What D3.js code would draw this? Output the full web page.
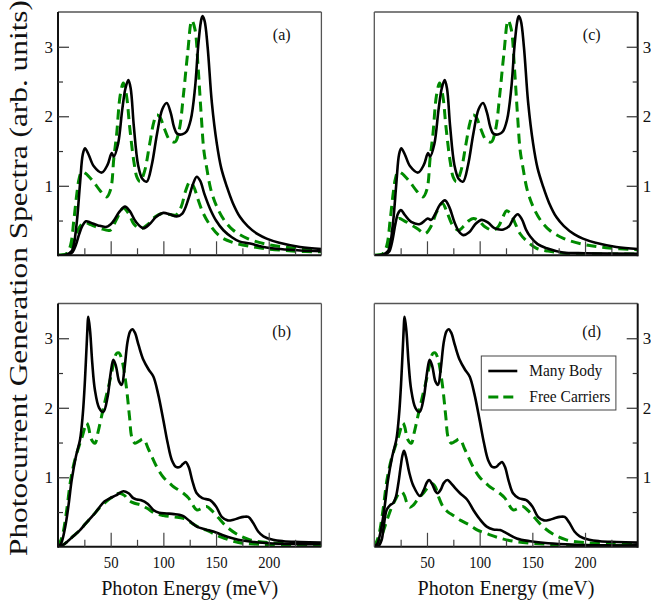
<!DOCTYPE html>
<html>
<head>
<meta charset="utf-8">
<script src="https://cdn.jsdelivr.net/npm/d3@7"></script>
<style>
  html, body { margin: 0; padding: 0; background: #fff; }
  svg { display: block; }
  svg text { font-family: "Liberation Serif", "Times New Roman", serif !important; }
</style>
</head>
<body>
<svg id="chart" width="651" height="608"></svg>
<script>
// ---- spectra: photon energy (meV) and generation values (arb. units) ----

// upper panels (a), (c): "large" curves shared by both
const topA_mb_x = [0, 8, 13, 15, 18, 21, 23.5, 25.6, 29, 34, 41.5, 47, 51, 53, 57, 61, 64, 66.8, 69, 72, 76, 80, 84.2, 89, 94, 99, 103.2, 107, 110, 113, 118, 122, 126, 130, 133, 135.5, 137, 139, 142, 146, 150.7, 155, 160.2, 166, 172.8, 180, 190, 198, 210, 229.7, 250];
const topA_mb_y = [0, 0.01, 0.06, 0.15, 0.5, 1.05, 1.45, 1.54, 1.45, 1.28, 1.19, 1.3, 1.47, 1.42, 1.6, 2.1, 2.4, 2.52, 2.4, 1.85, 1.3, 1.1, 1.06, 1.3, 1.75, 2.1, 2.19, 2.05, 1.85, 1.75, 1.74, 1.78, 1.95, 2.4, 3.0, 3.35, 3.44, 3.38, 3.0, 2.2, 1.61, 1.25, 0.99, 0.75, 0.55, 0.42, 0.3, 0.24, 0.18, 0.12, 0.09];
const topA_fc_x = [0, 8, 12, 15, 18, 20, 22.5, 26, 33.5, 40, 46.2, 50, 53, 55.7, 59, 62, 65, 68, 72, 75, 77.9, 82, 87, 91, 93.7, 97, 101, 106, 111, 115, 119, 123, 127, 130, 133, 136, 138.5, 141, 145, 150.7, 158, 166.4, 180, 198, 220, 250];
const topA_fc_y = [0, 0.02, 0.15, 0.5, 0.9, 1.1, 1.2, 1.18, 1.06, 0.93, 0.84, 0.95, 1.4, 1.75, 2.3, 2.48, 2.3, 1.85, 1.35, 1.12, 1.06, 1.2, 1.6, 1.92, 2.02, 1.98, 1.82, 1.66, 1.63, 1.8, 2.3, 2.9, 3.38, 3.25, 2.7, 2.0, 1.5, 1.27, 0.95, 0.7, 0.5, 0.36, 0.24, 0.16, 0.11, 0.08];

// panel (a): lower curves
const botA_mb_x = [0, 10, 14, 17, 20, 23, 26.6, 31, 38, 46.2, 52, 58, 63.6, 68, 74, 81, 87, 93, 100, 106, 112.7, 118, 124, 128, 131.7, 135, 139, 144.3, 150, 157, 165, 172, 182.3, 195, 211, 230, 250];
const botA_mb_y = [0, 0.01, 0.05, 0.15, 0.3, 0.42, 0.49, 0.47, 0.43, 0.41, 0.48, 0.62, 0.7, 0.64, 0.48, 0.39, 0.45, 0.55, 0.61, 0.59, 0.56, 0.6, 0.82, 1.02, 1.13, 1.07, 0.88, 0.67, 0.5, 0.36, 0.26, 0.2, 0.17, 0.12, 0.09, 0.07, 0.06];
const botA_fc_x = [0, 8, 12, 15, 18, 21, 25.6, 31, 40, 49.4, 55, 62, 67, 72, 78, 85, 92, 98.5, 105, 112, 117, 121, 125.3, 129, 133, 138, 145, 154, 165, 182, 200, 225, 250];
const botA_fc_y = [0, 0.02, 0.08, 0.2, 0.33, 0.42, 0.47, 0.44, 0.39, 0.36, 0.5, 0.68, 0.6, 0.45, 0.38, 0.44, 0.55, 0.6, 0.59, 0.58, 0.7, 0.92, 1.06, 0.98, 0.8, 0.6, 0.42, 0.27, 0.19, 0.13, 0.09, 0.06, 0.05];

// panel (c): lower curves
const botC_mb_x = [0, 10, 14, 17, 20, 22.5, 25.3, 29, 35, 43.4, 48, 50.7, 53.9, 58, 62, 67.1, 71, 76, 80, 84.5, 90, 96, 102, 108, 114, 122.5, 128, 132, 136.1, 140, 144, 148, 155, 163.7, 179, 200, 250];
const botC_mb_y = [0, 0.01, 0.05, 0.2, 0.45, 0.6, 0.65, 0.58, 0.48, 0.45, 0.5, 0.53, 0.51, 0.6, 0.72, 0.79, 0.7, 0.48, 0.35, 0.29, 0.33, 0.45, 0.51, 0.47, 0.39, 0.37, 0.42, 0.53, 0.59, 0.52, 0.37, 0.27, 0.16, 0.1, 0.04, 0.03, 0.02];
const botC_fc_x = [0, 8, 12, 15, 18, 21, 23.8, 28, 35, 42, 48.1, 54, 59, 64.6, 69, 74, 79.8, 85, 90, 94, 99, 105, 113, 118, 122, 125.7, 130, 134, 138.4, 145, 154, 165, 180, 210, 250];
const botC_fc_y = [0, 0.02, 0.1, 0.25, 0.4, 0.5, 0.53, 0.5, 0.44, 0.37, 0.31, 0.42, 0.62, 0.75, 0.62, 0.44, 0.36, 0.42, 0.5, 0.53, 0.5, 0.41, 0.36, 0.42, 0.55, 0.64, 0.58, 0.45, 0.31, 0.2, 0.1, 0.06, 0.03, 0.02, 0.02];

// lower panels (b), (d): "large" curves shared by both
const topB_mb_x = [0, 3, 7, 10, 13, 17, 20.9, 23.5, 25.6, 27.5, 28.8, 30.5, 32.5, 35, 39, 43, 47, 50, 52.5, 55, 58, 60.5, 63, 66, 68.5, 70.6, 73, 76.5, 81, 86, 90.5, 95, 100, 104, 108, 112, 115.8, 118.5, 121.2, 124, 127.5, 131.7, 137, 144.3, 150, 155.4, 161, 166.6, 171, 176, 180.7, 185, 190, 195, 204, 214, 230, 250];
const topB_mb_y = [0, 0.05, 0.3, 0.6, 0.96, 1.3, 1.54, 1.9, 2.4, 3.0, 3.31, 3.1, 2.65, 2.26, 2.0, 1.94, 2.15, 2.5, 2.69, 2.6, 2.38, 2.33, 2.55, 2.95, 3.1, 3.13, 3.08, 2.9, 2.69, 2.55, 2.45, 2.2, 1.82, 1.5, 1.25, 1.15, 1.15, 1.19, 1.22, 1.15, 0.95, 0.77, 0.7, 0.67, 0.58, 0.43, 0.38, 0.39, 0.41, 0.43, 0.43, 0.35, 0.22, 0.15, 0.1, 0.08, 0.07, 0.06];
const topB_fc_x = [0, 4, 8, 12, 16, 20, 23.3, 25.5, 27.2, 29, 31.5, 35.1, 38, 43, 49.4, 53, 55.5, 57.9, 60.5, 63, 65.2, 68, 70, 73.1, 77, 81, 86, 93.7, 100, 106.3, 110, 114.2, 119, 124, 131.7, 136, 141, 146, 152, 160, 170, 182.3, 200, 225, 250];
const topB_fc_y = [0, 0.15, 0.5, 0.96, 1.25, 1.45, 1.6, 1.72, 1.78, 1.72, 1.55, 1.49, 1.65, 1.99, 2.4, 2.65, 2.78, 2.79, 2.7, 2.5, 2.26, 1.85, 1.58, 1.49, 1.52, 1.55, 1.4, 1.15, 1.0, 0.91, 0.86, 0.82, 0.77, 0.7, 0.53, 0.55, 0.58, 0.52, 0.42, 0.29, 0.18, 0.1, 0.06, 0.05, 0.04];

// panel (b): lower curves
const botB_mb_x = [0, 5, 10, 15, 20.9, 26, 32, 36, 39.9, 44, 49.4, 55, 62, 67, 71.5, 75, 79, 85, 90.5, 96, 103, 110, 115, 119, 125, 131.7, 140, 147.5, 156, 166.5, 175, 185.5, 200, 225, 250];
const botB_mb_y = [0, 0.03, 0.09, 0.16, 0.24, 0.33, 0.43, 0.5, 0.58, 0.65, 0.7, 0.74, 0.8, 0.77, 0.7, 0.68, 0.67, 0.62, 0.53, 0.49, 0.48, 0.47, 0.46, 0.44, 0.37, 0.29, 0.25, 0.22, 0.17, 0.12, 0.09, 0.07, 0.05, 0.04, 0.04];
const botB_fc_x = [0, 5, 10, 15, 20.9, 26, 32, 40, 49, 55, 58, 63, 67, 72, 79, 85, 92, 100, 110, 119, 128, 135, 141, 147.5, 155, 166.5, 175, 185.5, 200, 225, 250];
const botB_fc_y = [0, 0.03, 0.09, 0.16, 0.24, 0.33, 0.43, 0.57, 0.69, 0.75, 0.77, 0.74, 0.67, 0.63, 0.6, 0.55, 0.48, 0.45, 0.43, 0.41, 0.33, 0.27, 0.24, 0.19, 0.14, 0.08, 0.05, 0.04, 0.03, 0.03, 0.03];

// panel (d): lower curves
const botD_mb_x = [0, 4, 7, 9, 11.7, 15, 18, 20.5, 22.8, 25, 26.8, 28.2, 30, 33, 37, 43.4, 47, 50, 52, 55, 58, 60, 63, 66, 69.4, 72.5, 77, 81.4, 88, 94, 100, 106.7, 113, 119.4, 125, 135.2, 147.9, 165, 190, 220, 250];
const botD_mb_y = [0, 0.01, 0.1, 0.3, 0.53, 0.6, 0.63, 0.72, 0.91, 1.15, 1.32, 1.38, 1.3, 1.08, 0.88, 0.73, 0.82, 0.93, 0.96, 0.9, 0.8, 0.77, 0.82, 0.92, 0.96, 0.92, 0.84, 0.77, 0.68, 0.53, 0.4, 0.29, 0.25, 0.24, 0.2, 0.12, 0.08, 0.05, 0.03, 0.02, 0.02];
const botD_fc_x = [0, 4, 8, 12, 16, 20, 23, 26, 28.5, 31, 33.9, 37, 42, 46.5, 50, 54.5, 58, 61, 65.5, 70, 75, 82, 90.8, 98, 106.7, 118, 132, 150, 175, 210, 250];
const botD_fc_y = [0, 0.05, 0.2, 0.38, 0.55, 0.68, 0.76, 0.79, 0.74, 0.63, 0.57, 0.6, 0.7, 0.77, 0.84, 0.91, 0.86, 0.72, 0.57, 0.5, 0.45, 0.38, 0.31, 0.24, 0.19, 0.13, 0.08, 0.05, 0.03, 0.02, 0.02];

// axes
const xMajorTicks = [50, 100, 150, 200];
const xMinorTicks = [25, 75, 125, 175, 225];
const yMajorTicks = [1, 2, 3];
const yMinorTicks = [0.5, 1.5, 2.5];
const xDomain = [0, 250];
const yDomain = [0, 3.5];

const xTitle = "Photon Energy (meV)";
const yTitle = "Photocurrent Generation Spectra (arb. units)";
const seriesNames = ["Many Body", "Free Carriers"];

// ---- drawing ----
const SERIF = "'Liberation Serif', 'Times New Roman', serif";
const GREEN = "rgb(0,139,0)";
const svg = d3.select("#chart");

const zip = (xs, ys) => xs.map((x, i) => ({ x, y: ys[i] }));

const panels = [
  { id: "a", left: 58,    top: 12,    side: "left",  bottomLabels: false,
    curves: [[topA_mb_x, topA_mb_y, 0], [topA_fc_x, topA_fc_y, 1], [botA_mb_x, botA_mb_y, 0], [botA_fc_x, botA_fc_y, 1]] },
  { id: "c", left: 374.3, top: 12,    side: "right", bottomLabels: false,
    curves: [[topA_mb_x, topA_mb_y, 0], [topA_fc_x, topA_fc_y, 1], [botC_mb_x, botC_mb_y, 0], [botC_fc_x, botC_fc_y, 1]] },
  { id: "b", left: 58,    top: 303.5, side: "left",  bottomLabels: true,
    curves: [[topB_mb_x, topB_mb_y, 0], [topB_fc_x, topB_fc_y, 1], [botB_mb_x, botB_mb_y, 0], [botB_fc_x, botB_fc_y, 1]] },
  { id: "d", left: 374.3, top: 303.5, side: "right", bottomLabels: true, legend: true,
    curves: [[topB_mb_x, topB_mb_y, 0], [topB_fc_x, topB_fc_y, 1], [botD_mb_x, botD_mb_y, 0], [botD_fc_x, botD_fc_y, 1]] }
];

const W = 263.4, H = 243.3;

const styles = [
  { stroke: "#000", width: 2.6, dash: null },
  { stroke: GREEN, width: 3, dash: "10,6" }
];

panels.forEach(p => {
  const g = svg.append("g").attr("transform", `translate(${p.left},${p.top})`);
  const x = d3.scaleLinear().domain(xDomain).range([0, W]);
  const y = d3.scaleLinear().domain(yDomain).range([H, 0]);

  const clipId = "clip-" + p.id;
  g.append("clipPath").attr("id", clipId)
    .append("rect").attr("x", 0).attr("y", 0).attr("width", W).attr("height", H);

  const line = d3.line().x(d => x(d.x)).y(d => y(d.y)).curve(d3.curveCatmullRom.alpha(0.5));
  const plot = g.append("g").attr("clip-path", `url(#${clipId})`);
  // free-carrier (dashed) curves first, many-body on top
  [1, 0].forEach(kind => {
    p.curves.filter(c => c[2] === kind).forEach(c => {
      const s = styles[kind];
      plot.append("path")
        .datum(zip(c[0], c[1]))
        .attr("d", line)
        .attr("fill", "none")
        .attr("stroke", s.stroke)
        .attr("stroke-width", s.width)
        .attr("stroke-linejoin", "round")
        .attr("stroke-dasharray", s.dash);
    });
  });

  // frame: thin on open sides, heavy on axis sides
  const thin = "#555", heavy = "#111";
  g.append("line").attr("x1", 0).attr("x2", W).attr("y1", 0).attr("y2", 0).attr("stroke", thin).attr("stroke-width", 1.3);
  g.append("line").attr("x1", 0).attr("x2", W).attr("y1", H).attr("y2", H).attr("stroke", heavy).attr("stroke-width", 2);
  const axX = p.side === "left" ? 0 : W, openX = p.side === "left" ? W : 0;
  g.append("line").attr("x1", openX).attr("x2", openX).attr("y1", 0).attr("y2", H).attr("stroke", thin).attr("stroke-width", 1.3);
  g.append("line").attr("x1", axX).attr("x2", axX).attr("y1", 0).attr("y2", H + 1).attr("stroke", heavy).attr("stroke-width", 2);

  // x ticks (pointing inward)
  const xMaj = d3.axisBottom(x).tickValues(xMajorTicks).tickSize(-14).tickPadding(10)
    .tickFormat(p.bottomLabels ? d3.format("d") : () => "");
  const xMin = d3.axisBottom(x).tickValues(xMinorTicks).tickSize(-7).tickFormat(() => "");
  [xMaj, xMin].forEach(ax => {
    const a = g.append("g").attr("transform", `translate(0,${H})`).call(ax)
      .attr("font-family", SERIF);
    a.select(".domain").remove();
    a.selectAll(".tick line").attr("stroke", "#444").attr("stroke-width", 1.2);
    a.selectAll("text").attr("font-size", 16).attr("fill", "#111")
      .style("font-family", SERIF)
      .attr("transform", "scale(0.92,1)");
  });

  // y ticks (pointing inward, labels outside)
  const mk = p.side === "left" ? d3.axisLeft : d3.axisRight;
  const yMaj = mk(y).tickValues(yMajorTicks).tickSize(-11).tickPadding(5).tickFormat(d3.format("d"));
  const yMin = mk(y).tickValues(yMinorTicks).tickSize(-5).tickFormat(() => "");
  [yMaj, yMin].forEach(ax => {
    const a = g.append("g").attr("transform", `translate(${axX},0)`).call(ax)
      .attr("font-family", SERIF);
    a.select(".domain").remove();
    a.selectAll(".tick line").attr("stroke", "#333").attr("stroke-width", 1.2);
    a.selectAll("text").attr("font-size", 17).attr("fill", "#111")
      .style("font-family", SERIF);
  });

  // panel tag
  g.append("text")
    .attr("x", p.side === "left" ? 223.7 : 217.4)
    .attr("y", p.bottomLabels ? 33 : 28)
    .attr("text-anchor", "middle")
    .attr("font-size", 16)
    .attr("fill", "#111")
    .style("font-family", SERIF)
    .text(`(${p.id})`);

  if (p.bottomLabels) {
    g.append("text")
      .attr("x", W / 2).attr("y", H + 48.5)
      .attr("text-anchor", "middle")
      .attr("font-size", 22)
      .attr("fill", "#111")
      .style("font-family", SERIF)
      .attr("textLength", 177).attr("lengthAdjust", "spacingAndGlyphs")
      .text(xTitle);
  }

  if (p.legend) {
    const lg = g.append("g").attr("transform", "translate(107,52.5)");
    lg.append("rect").attr("x", 0).attr("y", 0).attr("width", 134.6).attr("height", 54)
      .attr("fill", "#fff").attr("stroke", "#444").attr("stroke-width", 1);
    seriesNames.forEach((name, i) => {
      const s = styles[i];
      const ly = 15 + i * 26;
      lg.append("line").attr("x1", 7).attr("x2", 36).attr("y1", ly).attr("y2", ly)
        .attr("stroke", s.stroke).attr("stroke-width", s.width).attr("stroke-dasharray", i ? "10,5" : null);
      lg.append("text").attr("x", 48).attr("y", ly + 5)
        .attr("font-size", 16).attr("fill", "#111")
        .style("font-family", SERIF)
        .attr("textLength", i ? 81 : 73).attr("lengthAdjust", "spacingAndGlyphs")
        .text(name);
    });
  }
});

// shared y title
svg.append("text")
  .attr("transform", "translate(27,278) rotate(-90)")
  .attr("text-anchor", "middle")
  .attr("font-size", 26)
  .attr("fill", "#111")
  .style("font-family", SERIF)
  .attr("textLength", 556).attr("lengthAdjust", "spacingAndGlyphs")
  .text(yTitle);
</script>
</body>
</html>
